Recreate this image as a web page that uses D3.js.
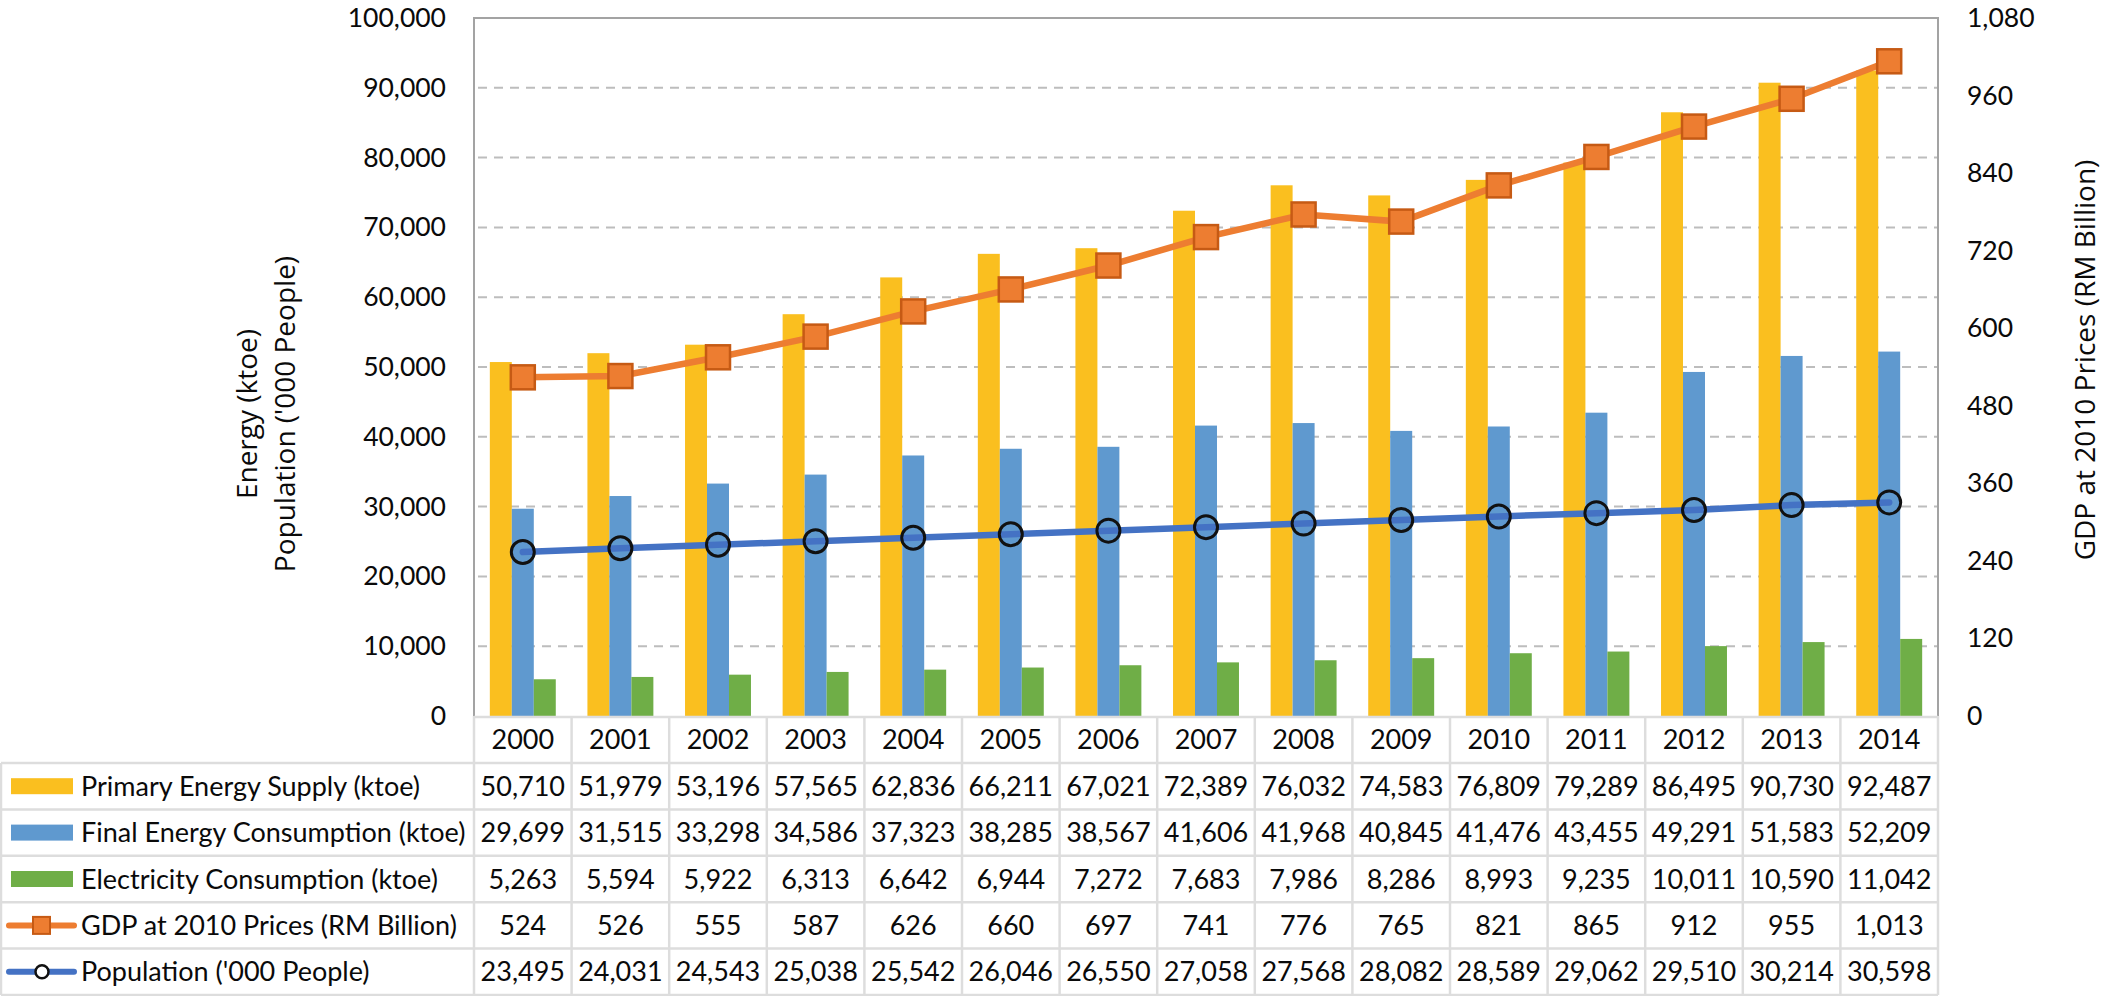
<!DOCTYPE html>
<html>
<head>
<meta charset="utf-8">
<script src="https://cdn.jsdelivr.net/npm/d3@7"></script>
<style>
  body { margin: 0; background: #fff; }
  svg { display: block; }
  .tick text, .cell { font-family: Lato, 'Open Sans', sans-serif; fill: #0a0a0a; }
  .title { font-family: 'Open Sans', sans-serif; fill: #0a0a0a; }
</style>
</head>
<body>
<svg id="chart" width="2104" height="996"></svg>
<script>
const years = [2000, 2001, 2002, 2003, 2004, 2005, 2006, 2007, 2008, 2009, 2010, 2011, 2012, 2013, 2014]
const primarySupply = [50710, 51979, 53196, 57565, 62836, 66211, 67021, 72389, 76032, 74583, 76809, 79289, 86495, 90730, 92487]
const finalConsumption = [29699, 31515, 33298, 34586, 37323, 38285, 38567, 41606, 41968, 40845, 41476, 43455, 49291, 51583, 52209]
const electricity = [5263, 5594, 5922, 6313, 6642, 6944, 7272, 7683, 7986, 8286, 8993, 9235, 10011, 10590, 11042]
const gdp = [524, 526, 555, 587, 626, 660, 697, 741, 776, 765, 821, 865, 912, 955, 1013]
const population = [23495, 24031, 24543, 25038, 25542, 26046, 26550, 27058, 27568, 28082, 28589, 29062, 29510, 30214, 30598]

const leftTicks = [0, 10000, 20000, 30000, 40000, 50000, 60000, 70000, 80000, 90000, 100000]
const rightTicks = [0, 120, 240, 360, 480, 600, 720, 840, 960, 1080]

const barSeries = [
  { name: 'Primary Energy Supply (ktoe)', values: primarySupply, color: '#FABF1F' },
  { name: 'Final Energy Consumption (ktoe)', values: finalConsumption, color: '#5F99CF' },
  { name: 'Electricity Consumption (ktoe)', values: electricity, color: '#6FAE47' },
]
const lineSeries = [
  { name: 'GDP at 2010 Prices (RM Billion)', values: gdp, color: '#ED7D31', axis: 'right', marker: 'square' },
  { name: "Population ('000 People)", values: population, color: '#4472C4', axis: 'left', marker: 'circle' },
]

const svg = d3.select('#chart')
const fmt = d3.format(',')

const plot = { left: 474, right: 1938, top: 18, bottom: 716 }

const x = d3.scaleBand().domain(years).range([plot.left, plot.right])
const xInner = d3.scaleBand().domain([0, 1, 2]).range([0, x.bandwidth()]).paddingOuter(0.72)
const yLeft = d3.scaleLinear().domain([0, 100000]).range([plot.bottom, plot.top])
const yRight = d3.scaleLinear().domain([0, 1080]).range([plot.bottom, plot.top])

// grid lines
svg.append('g')
  .selectAll('line')
  .data(leftTicks.filter((t) => t > 0 && t < 100000))
  .join('line')
  .attr('x1', plot.left + 4)
  .attr('x2', plot.right)
  .attr('y1', (d) => yLeft(d))
  .attr('y2', (d) => yLeft(d))
  .attr('stroke', '#BDBDBD')
  .attr('stroke-width', 2)
  .attr('stroke-dasharray', '9,7')

// bars
barSeries.forEach((s, si) => {
  svg.append('g')
    .selectAll('rect')
    .data(s.values)
    .join('rect')
    .attr('x', (d, i) => x(years[i]) + xInner(si))
    .attr('width', xInner.bandwidth())
    .attr('y', (d) => yLeft(d))
    .attr('height', (d) => plot.bottom - yLeft(d))
    .attr('fill', s.color)
})

// plot border
svg.append('path')
  .attr('d', `M${plot.left},${plot.bottom}V${plot.top}H${plot.right}V${plot.bottom}`)
  .attr('fill', 'none')
  .attr('stroke', '#A3A3A3')
  .attr('stroke-width', 2)

// lines + markers
const cx = (i) => x(years[i]) + x.bandwidth() / 2
lineSeries.forEach((s) => {
  const y = s.axis === 'right' ? yRight : yLeft
  const line = d3.line().x((d, i) => cx(i)).y((d) => y(d))
  svg.append('path')
    .datum(s.values)
    .attr('d', line)
    .attr('fill', 'none')
    .attr('stroke', s.color)
    .attr('stroke-width', 6.5)
    .attr('stroke-linecap', 'round')
  const g = svg.append('g')
  if (s.marker === 'square') {
    g.selectAll('rect')
      .data(s.values)
      .join('rect')
      .attr('x', (d, i) => cx(i) - 12)
      .attr('y', (d) => y(d) - 12)
      .attr('width', 24)
      .attr('height', 24)
      .attr('fill', s.color)
      .attr('stroke', '#C65A14')
      .attr('stroke-width', 2.5)
  } else {
    g.selectAll('circle')
      .data(s.values)
      .join('circle')
      .attr('cx', (d, i) => cx(i))
      .attr('cy', (d) => y(d))
      .attr('r', 11.5)
      .attr('fill', 'none')
      .attr('stroke', '#111')
      .attr('stroke-width', 3)
  }
})

// axes
svg.append('g')
  .attr('transform', `translate(${plot.left - 28},0)`)
  .call(d3.axisLeft(yLeft).tickValues(leftTicks).tickFormat(fmt).tickSize(0).tickPadding(0))
svg.append('g')
  .attr('transform', `translate(${plot.right + 29},0)`)
  .call(d3.axisRight(yRight).tickValues(rightTicks).tickFormat(fmt).tickSize(0).tickPadding(0))
svg.selectAll('.domain').remove()
svg.selectAll('.tick text').attr('font-size', 26.5)

// axis titles
svg.append('text')
  .attr('class', 'title')
  .attr('transform', 'translate(257,414) rotate(-90)')
  .attr('text-anchor', 'middle')
  .attr('font-size', 28)
  .text('Energy (ktoe)')
svg.append('text')
  .attr('class', 'title')
  .attr('transform', 'translate(295,414) rotate(-90)')
  .attr('text-anchor', 'middle')
  .attr('font-size', 28)
  .text("Population ('000 People)")
svg.append('text')
  .attr('class', 'title')
  .attr('transform', 'translate(2095,360) rotate(-90)')
  .attr('text-anchor', 'middle')
  .attr('font-size', 28)
  .text('GDP at 2010 Prices (RM Billion)')

// data table
const rowTop = [716, 763, 809.4, 855.8, 902.2, 948.6]
const rowBottom = 995
const tableLine = '#DDDDDD'
const tbl = svg.append('g')

// horizontal lines
tbl.append('line').attr('x1', plot.left).attr('x2', plot.right).attr('y1', rowTop[0] + 1).attr('y2', rowTop[0] + 1)
rowTop.slice(1).concat([rowBottom]).forEach((yy) => {
  tbl.append('line').attr('x1', 1).attr('x2', plot.right).attr('y1', yy).attr('y2', yy)
})
// vertical lines
tbl.append('line').attr('x1', 1).attr('x2', 1).attr('y1', rowTop[1]).attr('y2', rowBottom)
years.forEach((yr) => {
  tbl.append('line').attr('x1', x(yr)).attr('x2', x(yr)).attr('y1', rowTop[0]).attr('y2', rowBottom)
})
tbl.append('line').attr('x1', plot.right).attr('x2', plot.right).attr('y1', rowTop[0]).attr('y2', rowBottom)
tbl.selectAll('line').attr('stroke', tableLine).attr('stroke-width', 2.5)

const rowMid = (r) => (rowTop[r] + (r + 1 < rowTop.length ? rowTop[r + 1] : rowBottom)) / 2
const fs = 27

// year header
tbl.selectAll('text.yr')
  .data(years)
  .join('text')
  .attr('class', 'cell yr')
  .attr('x', (d) => x(d) + x.bandwidth() / 2)
  .attr('y', rowMid(0) + 9.5)
  .attr('text-anchor', 'middle')
  .attr('font-size', fs)
  .text((d) => d)

const allSeries = barSeries.concat(lineSeries)
allSeries.forEach((s, si) => {
  const r = si + 1
  const ym = rowMid(r)
  const row = tbl.append('g')
  row.selectAll('text')
    .data(s.values)
    .join('text')
    .attr('class', 'cell')
    .attr('x', (d, i) => cx(i))
    .attr('y', ym + 9.5)
    .attr('text-anchor', 'middle')
    .attr('font-size', fs)
    .text((d) => fmt(d))
  row.append('text')
    .attr('class', 'cell')
    .attr('x', 81)
    .attr('y', ym + 9.5)
    .attr('font-size', fs)
    .text(s.name)
  // legend key
  if (s.marker) {
    row.append('line')
      .attr('x1', 9).attr('x2', 74)
      .attr('y1', ym).attr('y2', ym)
      .attr('stroke', s.color).attr('stroke-width', 6).attr('stroke-linecap', 'round')
    if (s.marker === 'square') {
      row.append('rect')
        .attr('x', 33).attr('y', ym - 8.5).attr('width', 17).attr('height', 17)
        .attr('fill', s.color).attr('stroke', '#C65A14').attr('stroke-width', 2)
    } else {
      row.append('circle')
        .attr('cx', 42).attr('cy', ym).attr('r', 6.5)
        .attr('fill', '#fff').attr('stroke', '#111').attr('stroke-width', 2.5)
    }
  } else {
    row.append('rect')
      .attr('x', 11).attr('y', ym - 8).attr('width', 62).attr('height', 16)
      .attr('fill', s.color)
  }
})
</script>
</body>
</html>
